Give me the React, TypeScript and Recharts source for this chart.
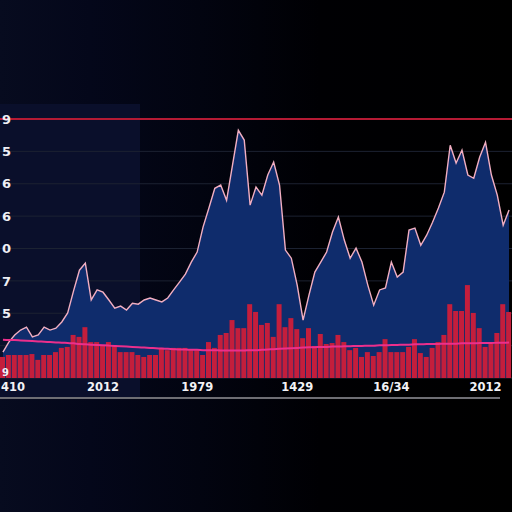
import React from 'react';
import { ComposedChart, Area, Bar, Line, XAxis, YAxis, CartesianGrid, ReferenceLine } from 'recharts';

const priceValues = [
  8.0, 11.1, 13.3, 14.8, 15.7, 12.7, 13.3, 15.7, 14.8, 15.4,
  17.3, 20.1, 26.9, 33.3, 35.5, 24.1, 27.2, 26.5, 24.1, 21.6,
  22.2, 21.0, 23.1, 22.8, 24.1, 24.7, 24.1, 23.5, 24.7, 27.2,
  29.6, 32.1, 35.8, 38.9, 46.6, 52.5, 58.6, 59.6, 54.9, 65.7,
  76.5, 73.5, 53.4, 59.0, 56.5, 62.7, 66.7, 59.6, 39.5, 37.0,
  28.7, 17.9, 25.6, 32.7, 35.8, 38.9, 45.1, 49.7, 42.6, 37.0,
  40.1, 35.8, 28.7, 22.5, 27.2, 27.8, 35.8, 31.2, 32.7, 45.7,
  46.3, 41.0, 44.1, 48.1, 52.5, 57.4, 71.9, 66.4, 70.4, 62.7,
  61.7, 68.2, 72.8, 62.7, 56.5, 47.2, 51.9,
];

const volumeValues = [
  6.5, 7.1, 7.1, 7.1, 7.1, 7.4, 5.6, 7.1, 7.1, 8.0,
  9.3, 9.6, 13.3, 12.7, 15.7, 11.1, 11.1, 10.2, 11.1, 10.2,
  8.0, 8.0, 8.0, 7.1, 6.5, 7.1, 7.1, 9.3, 8.6, 9.3,
  9.3, 9.3, 8.6, 8.6, 7.1, 11.1, 9.3, 13.3, 13.9, 17.9,
  15.4, 15.4, 22.8, 20.4, 16.4, 17.0, 12.7, 22.8, 15.7, 18.5,
  15.1, 12.3, 15.4, 9.9, 13.6, 10.5, 10.8, 13.3, 11.1, 8.6,
  9.3, 6.5, 8.0, 6.8, 8.0, 12.0, 8.0, 8.0, 8.0, 9.6,
  12.0, 7.7, 6.5, 9.3, 11.1, 13.3, 22.8, 20.7, 20.7, 28.7,
  20.1, 15.4, 9.6, 11.1, 13.9, 22.8, 20.4,
];

const averageValues = [
  11.8, 11.7, 11.7, 11.6, 11.5, 11.4, 11.3, 11.2, 11.1, 11.0,
  10.9, 10.8, 10.7, 10.5, 10.4, 10.3, 10.2, 10.1, 10.0, 9.9,
  9.8, 9.7, 9.6, 9.5, 9.4, 9.3, 9.2, 9.1, 9.0, 8.9,
  8.8, 8.8, 8.7, 8.7, 8.6, 8.6, 8.6, 8.5, 8.5, 8.5,
  8.5, 8.5, 8.6, 8.6, 8.7, 8.8, 8.9, 9.0, 9.1, 9.2,
  9.3, 9.4, 9.5, 9.5, 9.6, 9.6, 9.7, 9.7, 9.8, 9.8,
  9.9, 9.9, 10.0, 10.0, 10.1, 10.1, 10.2, 10.2, 10.3, 10.3,
  10.4, 10.4, 10.5, 10.5, 10.5, 10.6, 10.6, 10.6, 10.7, 10.7,
  10.7, 10.8, 10.8, 10.8, 10.9, 10.9, 11.0,
];

const xTickIndices = [2, 18, 34, 51, 67, 83];
const xTickLabels = ['410', '2012', '1979', '1429', '16/34', '2012'];

const yTickValues = [0, 10, 20, 30, 40, 50, 60, 70, 80];
const yTickLabels = ['9', '', '5', '7', '0', '6', '6', '5', '9'];

const data = priceValues.map((p, k) => ({
  i: k + 1,
  price: p,
  volume: volumeValues[k],
  avg: averageValues[k],
}));

const XTick = (props: any) => {
  const { x, y, payload } = props;
  const k = xTickIndices.indexOf(payload.value);
  if (k < 0) return <g />;
  const first = k === 0;
  return (
    <text
      x={first ? 1 : x}
      y={y}
      dy="0.78em"
      textAnchor={first ? 'start' : 'middle'}
      fill="#f2f2f6"
      fontSize={11.5}
      fontWeight={700}
      fontFamily='"DejaVu Sans", sans-serif'
    >
      {xTickLabels[k]}
    </text>
  );
};

const YTick = (props: any) => {
  const { y, payload } = props;
  const k = yTickValues.indexOf(payload.value);
  if (k < 0 || !yTickLabels[k]) return <g />;
  const bottom = k === 0;
  return (
    <text
      x={2}
      y={bottom ? y - 2 : y}
      dy={bottom ? '0' : '0.36em'}
      textAnchor="start"
      fill="#eeeef4"
      fontSize={bottom ? 10 : 13}
      fontWeight={700}
      fontFamily='"DejaVu Sans", sans-serif'
    >
      {yTickLabels[k]}
    </text>
  );
};

export default function App() {
  return (
    <div
      style={{
        position: 'absolute',
        left: 0,
        top: 0,
        width: 512,
        height: 512,
        overflow: 'hidden',
        background:
          'linear-gradient(to right, #070b1f 0px, #04071a 90px, #020410 200px, #000003 320px, #000000 100%)',
      }}
    >
      <div
        style={{
          position: 'absolute',
          left: 0,
          top: 104,
          width: 140,
          height: 293,
          background: '#0a0f2b',
        }}
      />
      <div style={{ position: 'absolute', left: 0, top: 0 }}>
        <ComposedChart
          width={512}
          height={512}
          data={data}
          margin={{ top: 119, right: 0, bottom: 114, left: -20 }}
          barCategoryGap={1}
        >
          <CartesianGrid horizontal vertical={false} stroke="#1c2232" strokeWidth={1} />
          <XAxis
            dataKey="i"
            ticks={xTickIndices}
            interval={0}
            axisLine={false}
            tickLine={false}
            tickSize={0}
            tickMargin={4}
            height={20}
            tick={<XTick />}
          />
          <YAxis
            domain={[0, 80]}
            ticks={yTickValues}
            width={20}
            axisLine={false}
            tickLine={false}
            tickSize={0}
            tick={<YTick />}
          />
          <ReferenceLine y={80} stroke="#b51a34" strokeWidth={2} />
          <Area
            type="linear"
            dataKey="price"
            stroke="#f2afc2"
            strokeWidth={1.4}
            fill="#0f2c6c"
            fillOpacity={1}
            isAnimationActive={false}
          />
          <Bar dataKey="volume" fill="#c41e3c" barSize={5} isAnimationActive={false} />
          <Line
            type="monotone"
            dataKey="avg"
            stroke="#ec2f8c"
            strokeWidth={2}
            dot={false}
            isAnimationActive={false}
          />
        </ComposedChart>
      </div>
      <div
        style={{
          position: 'absolute',
          left: 0,
          top: 397,
          width: 500,
          height: 2,
          background: '#6e6e74',
        }}
      />
    </div>
  );
}
